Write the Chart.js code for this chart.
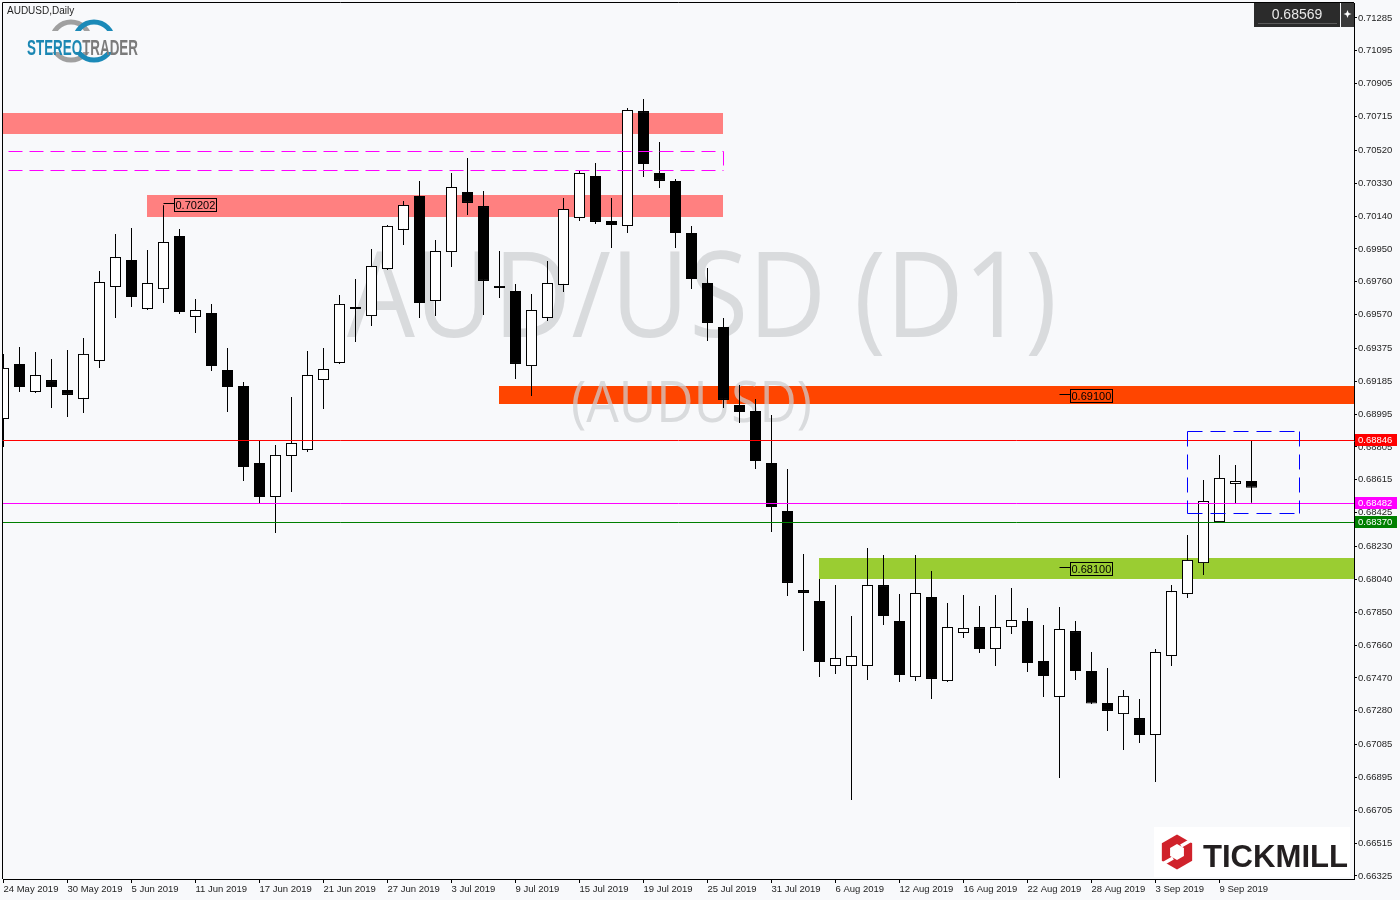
<!DOCTYPE html>
<html><head><meta charset="utf-8">
<script src="https://cdn.jsdelivr.net/npm/chart.js@4.4.1/dist/chart.umd.min.js"></script>
<style>html,body{margin:0;padding:0;background:#f8f9fb;overflow:hidden}canvas{display:block}</style>
</head><body>
<canvas id="c" width="1400" height="900"></canvas>
<script>
// ---------- data ----------
const dates = [
'2019-05-24','2019-05-27','2019-05-28','2019-05-29','2019-05-30','2019-05-31',
'2019-06-03','2019-06-04','2019-06-05','2019-06-06','2019-06-07',
'2019-06-10','2019-06-11','2019-06-12','2019-06-13','2019-06-14',
'2019-06-17','2019-06-18','2019-06-19','2019-06-20','2019-06-21',
'2019-06-24','2019-06-25','2019-06-26','2019-06-27','2019-06-28',
'2019-07-01','2019-07-02','2019-07-03','2019-07-04','2019-07-05',
'2019-07-08','2019-07-09','2019-07-10','2019-07-11','2019-07-12',
'2019-07-15','2019-07-16','2019-07-17','2019-07-18','2019-07-19',
'2019-07-22','2019-07-23','2019-07-24','2019-07-25','2019-07-26',
'2019-07-29','2019-07-30','2019-07-31','2019-08-01','2019-08-02',
'2019-08-05','2019-08-06','2019-08-07','2019-08-08','2019-08-09',
'2019-08-12','2019-08-13','2019-08-14','2019-08-15','2019-08-16',
'2019-08-19','2019-08-20','2019-08-21','2019-08-22','2019-08-23',
'2019-08-26','2019-08-27','2019-08-28','2019-08-29','2019-08-30',
'2019-09-02','2019-09-03','2019-09-04','2019-09-05','2019-09-06',
'2019-09-09','2019-09-10','2019-09-11'];

const candleOpen = [
0.68967,0.69285,0.69123,0.69192,0.69135,0.69083,0.69302,0.69730,0.69886,0.69603,
0.69718,0.70025,0.69557,0.69580,0.69250,0.69158,0.68713,0.68516,0.68753,0.68788,
0.69192,0.69291,0.69606,0.69562,0.69834,0.70060,0.70256,0.69649,0.69932,0.70279,
0.70198,0.69724,0.69707,0.69273,0.69551,0.69742,0.70129,0.70372,0.70112,0.70083,
0.70747,0.70389,0.70343,0.70042,0.69753,0.69499,0.69048,0.69013,0.68713,0.68435,
0.67978,0.67915,0.67539,0.67539,0.67539,0.68007,0.67799,0.67475,0.67938,0.67452,
0.67730,0.67764,0.67637,0.67764,0.67799,0.67568,0.67360,0.67741,0.67510,0.67325,
0.67261,0.67238,0.67140,0.67597,0.67955,0.68134,0.68371,0.68591,0.68608];
const candleHigh = [
0.69343,0.69383,0.69354,0.69314,0.69366,0.69435,0.69823,0.70036,0.70071,0.69944,
0.70202,0.70065,0.69661,0.69632,0.69377,0.69181,0.68840,0.68817,0.69094,0.69360,
0.69377,0.69684,0.69776,0.69950,0.70088,0.70227,0.70343,0.70002,0.70389,0.70476,
0.70285,0.69938,0.69747,0.69690,0.69880,0.70245,0.70401,0.70447,0.70245,0.70765,
0.70817,0.70568,0.70354,0.70083,0.69840,0.69551,0.69163,0.69083,0.68990,0.68678,
0.68186,0.68042,0.68007,0.67828,0.68221,0.68181,0.67955,0.68181,0.68088,0.67903,
0.67949,0.67886,0.67949,0.67990,0.67874,0.67776,0.67880,0.67799,0.67620,0.67527,
0.67400,0.67348,0.67637,0.68007,0.68296,0.68614,0.68759,0.68701,0.68846];
const candleLow = [
0.68805,0.69123,0.69117,0.69030,0.68978,0.69002,0.69262,0.69551,0.69614,0.69597,
0.69637,0.69574,0.69464,0.69244,0.69007,0.68608,0.68481,0.68308,0.68545,0.68776,
0.69025,0.69285,0.69412,0.69505,0.69828,0.69973,0.69551,0.69562,0.69846,0.70146,
0.69568,0.69666,0.69198,0.69100,0.69533,0.69701,0.70112,0.70094,0.69955,0.70042,
0.70366,0.70302,0.69955,0.69718,0.69418,0.69030,0.68944,0.68678,0.68314,0.67944,
0.67626,0.67475,0.67493,0.66764,0.67458,0.67776,0.67447,0.67452,0.67348,0.67447,
0.67701,0.67614,0.67539,0.67724,0.67504,0.67360,0.66892,0.67458,0.67319,0.67163,
0.67053,0.67094,0.66868,0.67539,0.67932,0.68065,0.68366,0.68481,0.68482];
const candleClose = [
0.69262,0.69152,0.69221,0.69152,0.69106,0.69343,0.69759,0.69903,0.69672,0.69753,
0.69990,0.69585,0.69597,0.69273,0.69152,0.68689,0.68516,0.68759,0.68828,0.69221,
0.69256,0.69632,0.69603,0.69851,0.70083,0.70204,0.69637,0.69938,0.70308,0.70216,
0.69765,0.69736,0.69285,0.69597,0.69753,0.70181,0.70389,0.70106,0.70088,0.70753,
0.70441,0.70343,0.70042,0.69776,0.69522,0.69077,0.69007,0.68724,0.68458,0.68019,
0.67961,0.67562,0.67585,0.67597,0.68007,0.67828,0.67487,0.67961,0.67464,0.67764,
0.67759,0.67637,0.67764,0.67805,0.67556,0.67481,0.67753,0.67510,0.67322,0.67279,
0.67366,0.67140,0.67620,0.67972,0.68152,0.68493,0.68626,0.68608,0.68569];

const priceTicks = [0.71285,0.71095,0.70905,0.70715,0.70520,0.70330,0.70140,0.69950,0.69760,
0.69570,0.69375,0.69185,0.68995,0.68805,0.68615,0.68425,0.68230,0.68040,0.67850,0.67660,
0.67470,0.67280,0.67085,0.66895,0.66705,0.66515,0.66325];
const dateTickIndex = dates.map((d, i) => i).filter(i => i % 4 === 0);

// zones: [fromIndex, toIndex, upperPrice, lowerPrice]
const redZones = [[-1, 45, 0.70736, 0.70614], [9, 45, 0.70262, 0.70135]];
const orangeZone = [31, 90, 0.69158, 0.69054];
const greenZone = [51, 90, 0.68163, 0.68042];
const magentaBox = [-1, 45, 0.70514, 0.70405];
const blueBox = [74, 81, 0.68896, 0.68422];
const levelLines = [0.68846, 0.68482, 0.68370];
const levelColors = ['#ff0000', '#ff00ff', '#008000'];
const priceTags = [[10, 0.70202], [66, 0.69100], [66, 0.68100]];
const lastPrice = 0.68569;

const MONTHS = ['Jan','Feb','Mar','Apr','May','Jun','Jul','Aug','Sep','Oct','Nov','Dec'];
function fmtDate(s) { const p = s.split('-'); return (+p[2]) + ' ' + MONTHS[+p[1] - 1] + ' ' + p[0]; }

const bodies = dates.map((d, i) => ({ x: i, y: [candleOpen[i], candleClose[i]] }));
const wicks = dates.map((d, i) => ({ x: i, y: [candleLow[i], candleHigh[i]] }));
const bodyColors = dates.map((d, i) => candleClose[i] >= candleOpen[i] ? '#ffffff' : '#000000');

const AX_FONT = "'Liberation Sans', Arial, sans-serif";
const BG = '#f8f9fb';

function stretchText(ctx, text, font, left, right, baseline, color) {
  ctx.save();
  ctx.font = font; ctx.fillStyle = color; ctx.textAlign = 'left'; ctx.textBaseline = 'alphabetic';
  const w = ctx.measureText(text).width;
  ctx.translate(left, baseline); ctx.scale((right - left) / w, 1);
  ctx.fillText(text, 0, 0);
  ctx.restore();
}

const overlay = {
  id: 'overlay',
  beforeDraw(chart) {
    const c = chart.ctx; c.save(); c.fillStyle = BG; c.fillRect(0, 0, chart.width, chart.height); c.restore();
  },
  beforeDatasetsDraw(chart) {
    const { ctx, chartArea: a, scales: { x, y } } = chart;
    ctx.save();
    ctx.beginPath(); ctx.rect(a.left, a.top, a.right - a.left, a.bottom - a.top); ctx.clip();
    const zone = (z, color) => {
      const x0 = Math.floor(x.getPixelForValue(z[0])), x1 = Math.floor(x.getPixelForValue(z[1]));
      const y0 = Math.round(y.getPixelForValue(z[2])), y1 = Math.round(y.getPixelForValue(z[3]));
      ctx.fillStyle = color; ctx.fillRect(x0, y0, x1 - x0, y1 - y0);
    };
    redZones.forEach(z => zone(z, '#ff8080'));
    zone(orangeZone, '#ff4500');
    zone(greenZone, '#9acd32');
    // watermark
    const WM = "'Open Sans','Noto Sans',sans-serif";
    stretchText(ctx, 'AUD/USD (D1)', '119px ' + WM, 347, 1057, 337, 'rgba(205,207,209,0.72)');
    stretchText(ctx, '(AUDUSD)', '56px ' + WM, 571, 812, 422, 'rgba(205,207,209,0.72)');
    ctx.restore();
  },
  afterDatasetsDraw(chart) {
    const { ctx, chartArea: a, scales: { x, y } } = chart;
    ctx.save();
    ctx.beginPath(); ctx.rect(a.left, a.top, a.right - a.left, a.bottom - a.top); ctx.clip();
    ctx.lineWidth = 1;
    levelLines.forEach((p, i) => {
      const yy = Math.round(y.getPixelForValue(p)) + 0.5;
      ctx.strokeStyle = levelColors[i];
      ctx.beginPath(); ctx.moveTo(a.left, yy); ctx.lineTo(a.right, yy); ctx.stroke();
    });
    const dashBox = (b, color, dash, leftEdge) => {
      const x0 = Math.floor(x.getPixelForValue(b[0])) + 0.5, x1 = Math.floor(x.getPixelForValue(b[1])) + 0.5;
      const y0 = Math.round(y.getPixelForValue(b[2])) + 0.5, y1 = Math.round(y.getPixelForValue(b[3])) + 0.5;
      ctx.strokeStyle = color; ctx.setLineDash(dash);
      ctx.beginPath();
      ctx.moveTo(x0, y0); ctx.lineTo(x1, y0);
      ctx.moveTo(x0, y1); ctx.lineTo(x1, y1);
      ctx.moveTo(x1, y0); ctx.lineTo(x1, y1);
      if (leftEdge) { ctx.moveTo(x0, y0); ctx.lineTo(x0, y1); }
      ctx.stroke();
      ctx.setLineDash([]);
    };
    dashBox(magentaBox, '#ff00ff', [14, 7], false);
    dashBox(blueBox, '#0000ff', [15, 8], true);
    ctx.font = '11px ' + AX_FONT;
    priceTags.forEach(t => {
      const px = Math.floor(x.getPixelForValue(t[0])) + 0.5;
      const py = Math.round(y.getPixelForValue(t[1])) - 1.5;
      const txt = t[1].toFixed(5);
      const w = Math.round(ctx.measureText(txt).width) + 2;
      ctx.strokeStyle = '#000';
      ctx.beginPath(); ctx.moveTo(px, py); ctx.lineTo(px + 11, py); ctx.stroke();
      ctx.strokeRect(px + 11, py - 5, w, 13);
      ctx.fillStyle = '#000'; ctx.textBaseline = 'middle'; ctx.textAlign = 'left';
      ctx.fillText(txt, px + 12, py + 2);
    });
    ctx.restore();
  },
  afterDraw(chart) {
    const { ctx, chartArea: a, scales: { y } } = chart;
    ctx.save();
    ctx.strokeStyle = '#000'; ctx.lineWidth = 1;
    ctx.beginPath();
    ctx.moveTo(a.left - 0.5, a.bottom); ctx.lineTo(a.left - 0.5, a.top - 0.5); ctx.lineTo(a.right, a.top - 0.5);
    ctx.stroke();
    ctx.font = '9.5px ' + AX_FONT; ctx.textBaseline = 'middle'; ctx.textAlign = 'left';
    levelLines.forEach((p, i) => {
      const yy = Math.round(y.getPixelForValue(p));
      ctx.fillStyle = levelColors[i];
      ctx.fillRect(a.right + 1, yy - 6, 42, 12);
      ctx.fillStyle = '#ffffff';
      ctx.fillText(p.toFixed(5), a.right + 4, yy + 0.5);
    });
    ctx.fillStyle = '#2b2b2b'; ctx.fillRect(1254, 3, 86, 24);
    ctx.strokeStyle = '#5a5a5a'; ctx.beginPath(); ctx.moveTo(1258, 23.5); ctx.lineTo(1337, 23.5); ctx.stroke();
    ctx.fillStyle = '#3a3a3a'; ctx.fillRect(1341, 3, 13, 24);
    ctx.fillStyle = '#e8e8e8'; ctx.font = '14px ' + AX_FONT; ctx.textAlign = 'center';
    ctx.fillText(lastPrice.toFixed(5), 1297, 15);
    ctx.fillStyle = '#ffffff';
    ctx.beginPath(); ctx.moveTo(1347.5, 10); ctx.lineTo(1349, 14); ctx.lineTo(1347.5, 18); ctx.lineTo(1346, 14); ctx.closePath(); ctx.fill();
    ctx.beginPath(); ctx.moveTo(1343.5, 14); ctx.lineTo(1347.5, 12.5); ctx.lineTo(1351.5, 14); ctx.lineTo(1347.5, 15.5); ctx.closePath(); ctx.fill();
    ctx.textAlign = 'left'; ctx.fillStyle = '#1e1e1e'; ctx.font = '10px ' + AX_FONT;
    ctx.fillText('AUDUSD,Daily', 7, 11);
    ctx.lineWidth = 5;
    ctx.strokeStyle = '#a0a0a0'; ctx.beginPath(); ctx.arc(71, 41, 19, 0, Math.PI * 2); ctx.stroke();
    ctx.strokeStyle = '#1b8ab8'; ctx.beginPath(); ctx.arc(94, 41, 19, 0, Math.PI * 2); ctx.stroke();
    ctx.fillStyle = BG; ctx.fillRect(25, 31, 116, 21);
    ctx.save();
    ctx.font = 'bold 22px ' + AX_FONT;
    const w1 = ctx.measureText('STEREO').width, w2 = ctx.measureText('TRADER').width;
    const sx = 111 / (w1 + w2);
    ctx.translate(27, 49); ctx.scale(sx, 1);
    ctx.fillStyle = '#1b87b3'; ctx.fillText('STEREO', 0, 0);
    ctx.fillStyle = '#7b7b7b'; ctx.fillText('TRADER', w1, 0);
    ctx.restore();
    ctx.fillStyle = '#ffffff'; ctx.fillRect(1154, 827, 196, 50);
    const hex = (cx, cy, r) => { ctx.beginPath(); for (let k = 0; k < 6; k++) { const ang = Math.PI / 2 + k * Math.PI / 3; const px = cx + r * Math.cos(ang), py = cy - r * Math.sin(ang); if (k) ctx.lineTo(px, py); else ctx.moveTo(px, py); } ctx.closePath(); };
    ctx.fillStyle = '#d0222b'; hex(1177, 852, 17.5); ctx.fill();
    ctx.fillStyle = '#ffffff'; hex(1177, 852, 8); ctx.fill();
    ctx.strokeStyle = '#ffffff'; ctx.lineWidth = 3.5;
    ctx.beginPath(); ctx.moveTo(1181, 846); ctx.lineTo(1195, 838); ctx.moveTo(1173, 858); ctx.lineTo(1159, 866); ctx.stroke();
    ctx.fillStyle = '#231f20'; ctx.font = 'bold 31px ' + AX_FONT; ctx.textBaseline = 'alphabetic';
    const tw = ctx.measureText('TICKMILL').width;
    ctx.save(); ctx.translate(1203, 867); ctx.scale(145 / tw, 1); ctx.fillText('TICKMILL', 0, 0); ctx.restore();
    ctx.restore();
  }
};

new Chart(document.getElementById('c'), {
  type: 'bar',
  data: { datasets: [
    { label: 'Body', data: bodies, backgroundColor: bodyColors, borderColor: '#000', borderWidth: 1,
      borderSkipped: false, barThickness: 11, minBarLength: 2, grouped: false, order: 0, inflateAmount: 0 },
    { label: 'Wick', data: wicks, backgroundColor: '#000', borderWidth: 0,
      barThickness: 1, grouped: false, order: 1, inflateAmount: 0 }
  ]},
  options: {
    responsive: false, animation: false, devicePixelRatio: 1, events: [],
    layout: { padding: { left: 3, top: 3, right: 0, bottom: 0 }, autoPadding: false },
    plugins: { legend: { display: false }, tooltip: { enabled: false } },
    scales: {
      x: {
        type: 'linear', position: 'bottom', min: -0.03125, max: 84.40625, offset: false,
        afterFit: s => { s.height = 21; s.paddingLeft = 0; s.paddingRight = 0; s.paddingTop = 0; s.paddingBottom = 0; },
        afterBuildTicks: s => { s.ticks = dateTickIndex.map(v => ({ value: v })); },
        grid: { offset: false, drawOnChartArea: false, drawTicks: true, tickLength: 4, color: '#000', lineWidth: 1 },
        border: { display: true, color: '#000', width: 1 },
        ticks: { autoSkip: false, maxRotation: 0, minRotation: 0, align: 'start', padding: 1, color: '#1e1e1e',
          font: { family: AX_FONT, size: 9.5 }, callback: v => fmtDate(dates[v]) }
      },
      y: {
        type: 'linear', position: 'right', min: 0.6630765, max: 0.7137171,
        afterFit: s => { s.width = 46; s.paddingLeft = 0; s.paddingRight = 0; s.paddingTop = 0; s.paddingBottom = 0; },
        afterBuildTicks: s => { s.ticks = priceTicks.map(v => ({ value: v })); },
        grid: { drawOnChartArea: false, drawTicks: true, tickLength: 3, color: '#000', lineWidth: 1 },
        border: { display: true, color: '#000', width: 1 },
        ticks: { autoSkip: false, padding: 1, color: '#1e1e1e', font: { family: AX_FONT, size: 9.5 },
          callback: v => v.toFixed(5) }
      }
    }
  },
  plugins: [overlay]
});
</script>
</body></html>
